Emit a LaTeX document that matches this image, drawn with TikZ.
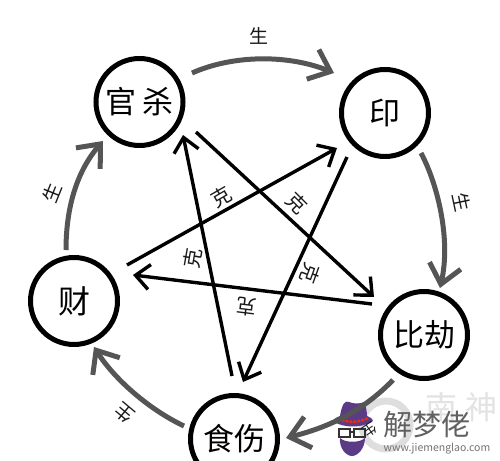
\documentclass[tikz,border=0pt]{standalone}
\usepackage{fontspec}
\setmainfont{Noto Sans CJK SC}
\usetikzlibrary{arrows.meta}
\definecolor{gsh}{HTML}{555555}
\definecolor{hatp}{HTML}{5B3A86}
\tikzset{
  elem/.style={draw=black,line width=5pt,circle,minimum size=87pt,inner sep=0pt,font=\fontsize{31}{31}\selectfont},
  shengarc/.style={draw=gsh,line width=5pt,-{Straight Barb[length=19pt,width=32pt,line width=5pt]}},
  kearrow/.style={draw=black,line width=3.4pt,-{Straight Barb[length=14pt,width=25pt,line width=3.4pt]}},
  shenglabel/.style={font=\fontsize{19}{19}\selectfont,text=black!90,inner sep=0pt},
  kelabel/.style={font=\fontsize{20}{20}\selectfont,text=black!90,inner sep=0pt},
}
\begin{document}
\begin{tikzpicture}[x=1pt,y=-1pt]
\useasboundingbox (0,0) rectangle (500,460);
\clip (0,0) rectangle (500,460);
\fill[white] (0,0) rectangle (500,460);

% watermark (beneath)
\node[inner sep=0pt,text=black!11,font=\fontsize{32}{32}\selectfont] (wmfaint) at (461,407) {南\hspace{8pt}神};
\draw[black!13,line width=7pt] (386,425) circle (24pt);
\node[inner sep=0pt,text=black!62,font=\fontsize{29}{29}\selectfont] (wmname) at (427,425) {解梦佬};
\node[inner sep=0pt,text=black!55,font=\fontsize{10.5}{10.5}\selectfont] (wmurl) at (437,449) {www.jiemenglao.com};
\fill[hatp] (340,416) .. controls (342,404) and (345,400) .. (349,402) .. controls (354,404) and (360,404) .. (364,402) .. controls (366,406) and (367,412) .. (367,416) .. controls (372,418) and (374,420) .. (372,422) .. controls (360,428) and (345,428) .. (334,422) .. controls (332,420) and (335,418) .. (340,416) -- cycle;
\draw[line width=2.4pt,red!70!orange,dash pattern=on 3pt off 1pt] (338,418) .. controls (346,423) and (358,423) .. (368,418);
\draw[line width=1.4pt,black!80] (339,429) rectangle (350,437) (354,429) rectangle (365,437) (350,432) -- (354,432);
\fill[hatp] (340,438) .. controls (345,443) and (360,443) .. (365,438) .. controls (365,448) and (358,456) .. (352,456) .. controls (346,456) and (339,448) .. (340,438) -- cycle;

% elements
\node[elem] (gs) at (139.5,102) {官\hspace{7pt}杀};
\node[elem] (yin) at (385,113) {印};
\node[elem] (bj) at (424,335) {比劫};
\node[elem] (ss) at (234,439) {食伤};
\node[elem,font=\fontsize{32}{32}\selectfont] (cai) at (74,301) {财};

% free ends
\coordinate (a1) at (192,73);  \coordinate (a2) at (334,73);
\coordinate (b1) at (421,153); \coordinate (b2) at (440,288);
\coordinate (c1) at (393,380); \coordinate (c2) at (286,438);
\coordinate (d1) at (184,426); \coordinate (d2) at (94,347);
\coordinate (e1) at (66,250);  \coordinate (e2) at (103,141);

\coordinate (k1s) at (196,132); \coordinate (k1e) at (374,297);
\coordinate (k2s) at (127,265); \coordinate (k2e) at (337,148);
\coordinate (k3s) at (347,157); \coordinate (k3e) at (243,382);
\coordinate (k4s) at (372,304); \coordinate (k4e) at (133,275);
\coordinate (k5s) at (232,376); \coordinate (k5e) at (183,135);

% sheng arcs
\draw[shengarc] (a1) .. controls (235,54) and (290,55) .. (a2);
\draw[shengarc] (b1) .. controls (438,185) and (451,240) .. (b2);
\draw[shengarc] (c1) .. controls (360,414) and (325,428) .. (c2);
\draw[shengarc] (d1) .. controls (150,410) and (115,380) .. (d2);
\draw[shengarc] (e1) .. controls (66,205) and (78,170) .. (e2);

% ke arrows
\draw[kearrow] (k1s) -- (k1e);
\draw[kearrow] (k2s) -- (k2e);
\draw[kearrow] (k3s) -- (k3e);
\draw[kearrow] (k4s) -- (k4e);
\draw[kearrow] (k5s) -- (k5e);

% labels
\node[shenglabel] (s1) at (259,36) {生};
\node[shenglabel,rotate=-78] (s2) at (462,202) {生};
\node[kelabel,font=\fontsize{14}{14}\selectfont,rotate=-145] (s3) at (370,430) {生};
\node[shenglabel,rotate=140] (s4) at (124,413) {生};
\node[shenglabel,rotate=68] (s5) at (52,193) {生};

\node[kelabel,rotate=30] (q1) at (221,197) {克};
\node[kelabel,rotate=-45] (q2) at (297,203) {克};
\node[kelabel,rotate=-110] (q3) at (310,273) {克};
\node[kelabel,rotate=173] (q4) at (247,307) {克};
\node[kelabel,rotate=80] (q5) at (193,258) {克};
\end{tikzpicture}
\end{document}
